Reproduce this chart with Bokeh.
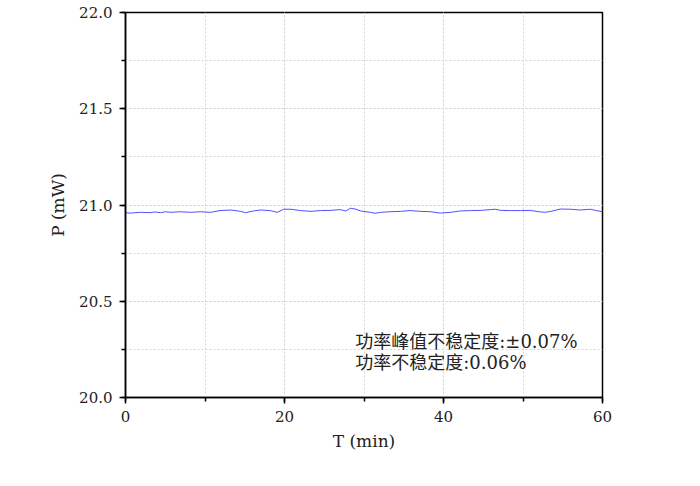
from bokeh.plotting import figure
from bokeh.models import Range1d, SingleIntervalTicker, PrintfTickFormatter
from bokeh.core.properties import value
from bokeh.embed import file_html
from bokeh.resources import INLINE

# Data
t_min = [0, 0.6, 1.9, 3.1, 3.7, 4.4, 5.0, 5.7, 6.9, 8.2, 9.4, 10.7, 11.9, 13.2, 14.5,
         15.1, 16.1, 17.0, 18.2, 19.1, 19.9, 20.8, 22.0, 23.3, 24.5, 25.8, 27.0, 27.7,
         28.3, 28.9, 29.6, 30.8, 31.4, 32.1, 33.3, 34.6, 35.8, 37.1, 38.4, 39.6, 40.9,
         42.1, 43.4, 44.7, 45.9, 46.5, 47.2, 48.4, 49.7, 50.9, 52.2, 52.8, 53.5, 54.7,
         56.0, 57.2, 58.5, 59.1, 60.0]
power_mw = [20.960, 20.958, 20.962, 20.960, 20.964, 20.960, 20.965, 20.962, 20.965,
            20.962, 20.965, 20.962, 20.971, 20.974, 20.967, 20.960, 20.969, 20.974,
            20.971, 20.962, 20.978, 20.978, 20.971, 20.967, 20.971, 20.972, 20.976,
            20.969, 20.983, 20.979, 20.969, 20.962, 20.957, 20.962, 20.965, 20.967,
            20.971, 20.967, 20.965, 20.958, 20.962, 20.969, 20.971, 20.972, 20.976,
            20.978, 20.972, 20.971, 20.971, 20.972, 20.964, 20.962, 20.967, 20.979,
            20.978, 20.974, 20.978, 20.972, 20.965]

notes = ["功率峰值不稳定度:±0.07%", "功率不稳定度:0.06%"]
note_x = [28.9, 28.9]
note_y = [20.293, 20.181]

x_label = "T (min)"
y_label = "P (mW)"

p = figure(width=700, height=486, output_backend="svg", toolbar_location=None,
           x_range=Range1d(0, 60), y_range=Range1d(20, 22),
           min_border_left=125, min_border_right=98, min_border_top=12,
           min_border_bottom=89)

p.background_fill_color = "white"
p.border_fill_color = "white"
p.outline_line_color = "black"
p.outline_line_width = 1.5

p.line(t_min, power_mw, line_color="#5050ff", line_width=1)

p.text(x=note_x, y=note_y, text=notes, text_baseline="middle", text_align="left",
       text_font=value("DejaVu Serif, Noto Sans CJK SC"), text_font_size="18px",
       text_color="#222222")

p.xaxis.ticker = SingleIntervalTicker(interval=20, num_minor_ticks=2)
p.yaxis.ticker = SingleIntervalTicker(interval=0.5, num_minor_ticks=2)
p.yaxis.formatter = PrintfTickFormatter(format="%.1f")

for ax in (p.xaxis[0], p.yaxis[0]):
    ax.axis_line_color = "black"
    ax.axis_line_width = 1.5
    ax.major_tick_line_color = "black"
    ax.major_tick_line_width = 1.5
    ax.minor_tick_line_color = "black"
    ax.minor_tick_line_width = 1.5
    ax.major_tick_in = 0
    ax.major_tick_out = 6
    ax.minor_tick_in = 0
    ax.minor_tick_out = 4
    ax.major_label_text_font = "DejaVu Serif"
    ax.major_label_text_font_size = "15px"
    ax.major_label_text_color = "#222222"
    ax.axis_label_text_font = "DejaVu Serif"
    ax.axis_label_text_font_size = "17px"
    ax.axis_label_text_font_style = "normal"
    ax.axis_label_text_color = "#222222"

p.xaxis.axis_label = x_label
p.yaxis.axis_label = y_label
p.xaxis.major_label_standoff = 7
p.xaxis.axis_label_standoff = 6
p.yaxis.major_label_standoff = 7
p.yaxis.axis_label_standoff = 8

for g in (p.xgrid[0], p.ygrid[0]):
    g.grid_line_color = "#d6d6d6"
    g.grid_line_dash = "2 2"
    g.grid_line_width = 1
    g.minor_grid_line_color = "#d6d6d6"
    g.minor_grid_line_dash = "2 2"
    g.minor_grid_line_width = 1

open("out.html", "w").write(file_html(p, INLINE))
